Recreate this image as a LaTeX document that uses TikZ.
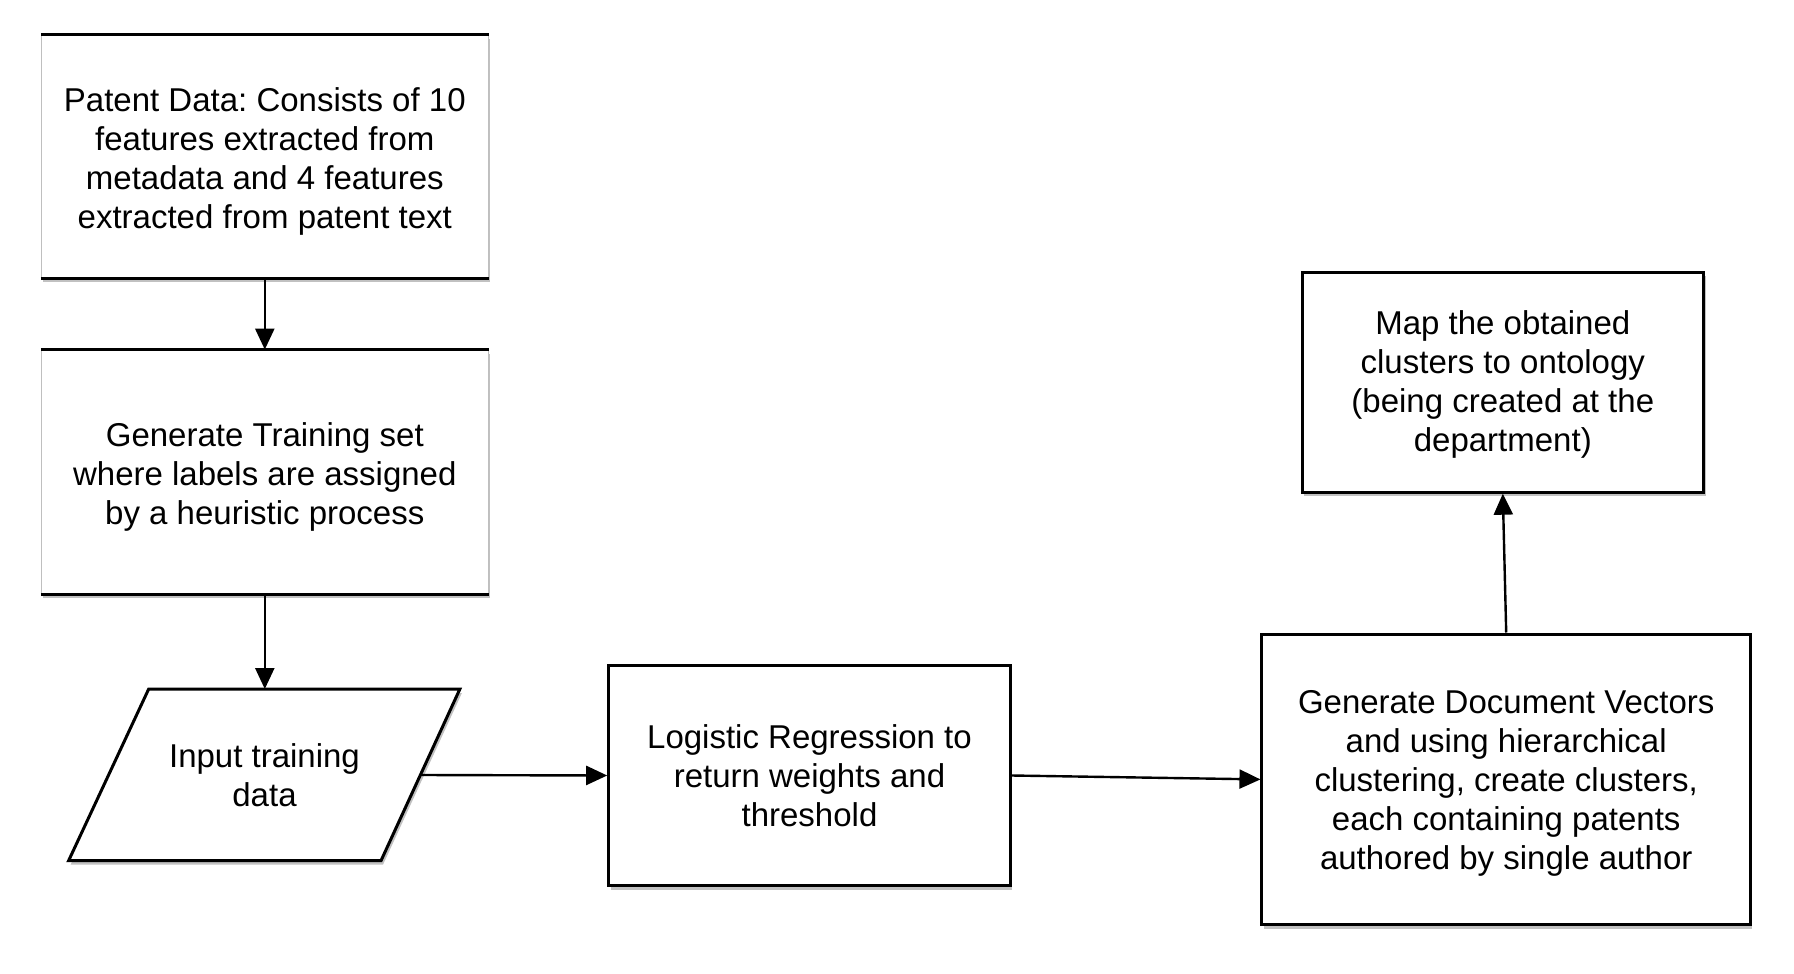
\documentclass[tikz,border=0pt]{standalone}
\usepackage{fontspec}
\setmainfont{Liberation Sans}
\frenchspacing
\usetikzlibrary{arrows.meta,shadows}
\begin{document}
\begin{tikzpicture}[x=1pt,y=-1pt,
  txt/.style={font=\fontsize{33}{39}\selectfont, align=center, inner sep=0pt},
  shd/.style={drop shadow={shadow xshift=2pt,shadow yshift=-4pt,opacity=0.35,fill=black!70}},
  procbox/.style={shd, draw=black, line width=3pt, fill=white, inner sep=0pt},
  openbox/.style={shd, draw=black!25, line width=1pt, fill=white, inner sep=0pt},
  edgeline/.style={draw=black, line width=3pt},
  conn/.style={line width=2.4pt, -{Triangle[length=21pt,width=19pt]}}
]
\useasboundingbox (0,0) rectangle (1794,974);

% open boxes (top and bottom borders only)
\node[openbox, minimum width=447pt, minimum height=243pt] (b1) at (264.8,156.8) {};
\draw[edgeline] (b1.north west) -- (b1.north east);
\draw[edgeline] (b1.south west) -- (b1.south east);
\node[txt] (t1) at ([yshift=-5pt]b1.center)
  {Patent Data: Consists of 10\\features extracted from\\metadata and 4 features\\extracted from patent text};

\node[openbox, minimum width=447pt, minimum height=244pt] (b2) at (264.8,472.1) {};
\draw[edgeline] (b2.north west) -- (b2.north east);
\draw[edgeline] (b2.south west) -- (b2.south east);
\node[txt] (t2) at ([yshift=-5pt]b2.center)
  {Generate Training set\\where labels are assigned\\by a heuristic process};

% parallelogram (input)
\coordinate (ptl) at (148.7,689);
\coordinate (ptr) at (459.9,689);
\coordinate (pbr) at (381,860.7);
\coordinate (pbl) at (68.6,860.7);
\filldraw[shd, draw=black, fill=white, line width=3pt, line join=miter]
  (ptl) -- (ptr) -- (pbr) -- (pbl) -- cycle;
\node[txt] (inp) at (264.5,775) {Input training\\data};
\coordinate (ptop) at (264.8,689);
\coordinate (pright) at (421,775);

% process boxes
\node[procbox, minimum width=401.6pt, minimum height=220.9pt] (lr) at (809.5,775.5) {};
\node[txt] (t3) at (lr.center) {Logistic Regression to\\return weights and\\threshold};
\node[procbox, minimum width=488.5pt, minimum height=290.8pt] (gdv) at (1506.2,779.4) {};
\node[txt] (t4) at ([yshift=-4pt]gdv.center)
  {Generate Document Vectors\\and using hierarchical\\clustering, create clusters,\\each containing patents\\authored by single author};
\node[procbox, minimum width=401.6pt, minimum height=219.8pt] (map) at (1502.8,382.3) {};
\node[txt] (t5) at ([yshift=-2pt]map.center)
  {Map the obtained\\clusters to ontology\\(being created at the\\department)};

% connectors
\draw[conn] (b1.south) -- (b2.north);
\draw[conn] (b2.south) -- (ptop);
\draw[conn] (pright) -- (lr.west);
\draw[conn] (lr.east) -- (gdv.west);
\draw[conn] (gdv.north) -- (map.south);
\end{tikzpicture}
\end{document}
